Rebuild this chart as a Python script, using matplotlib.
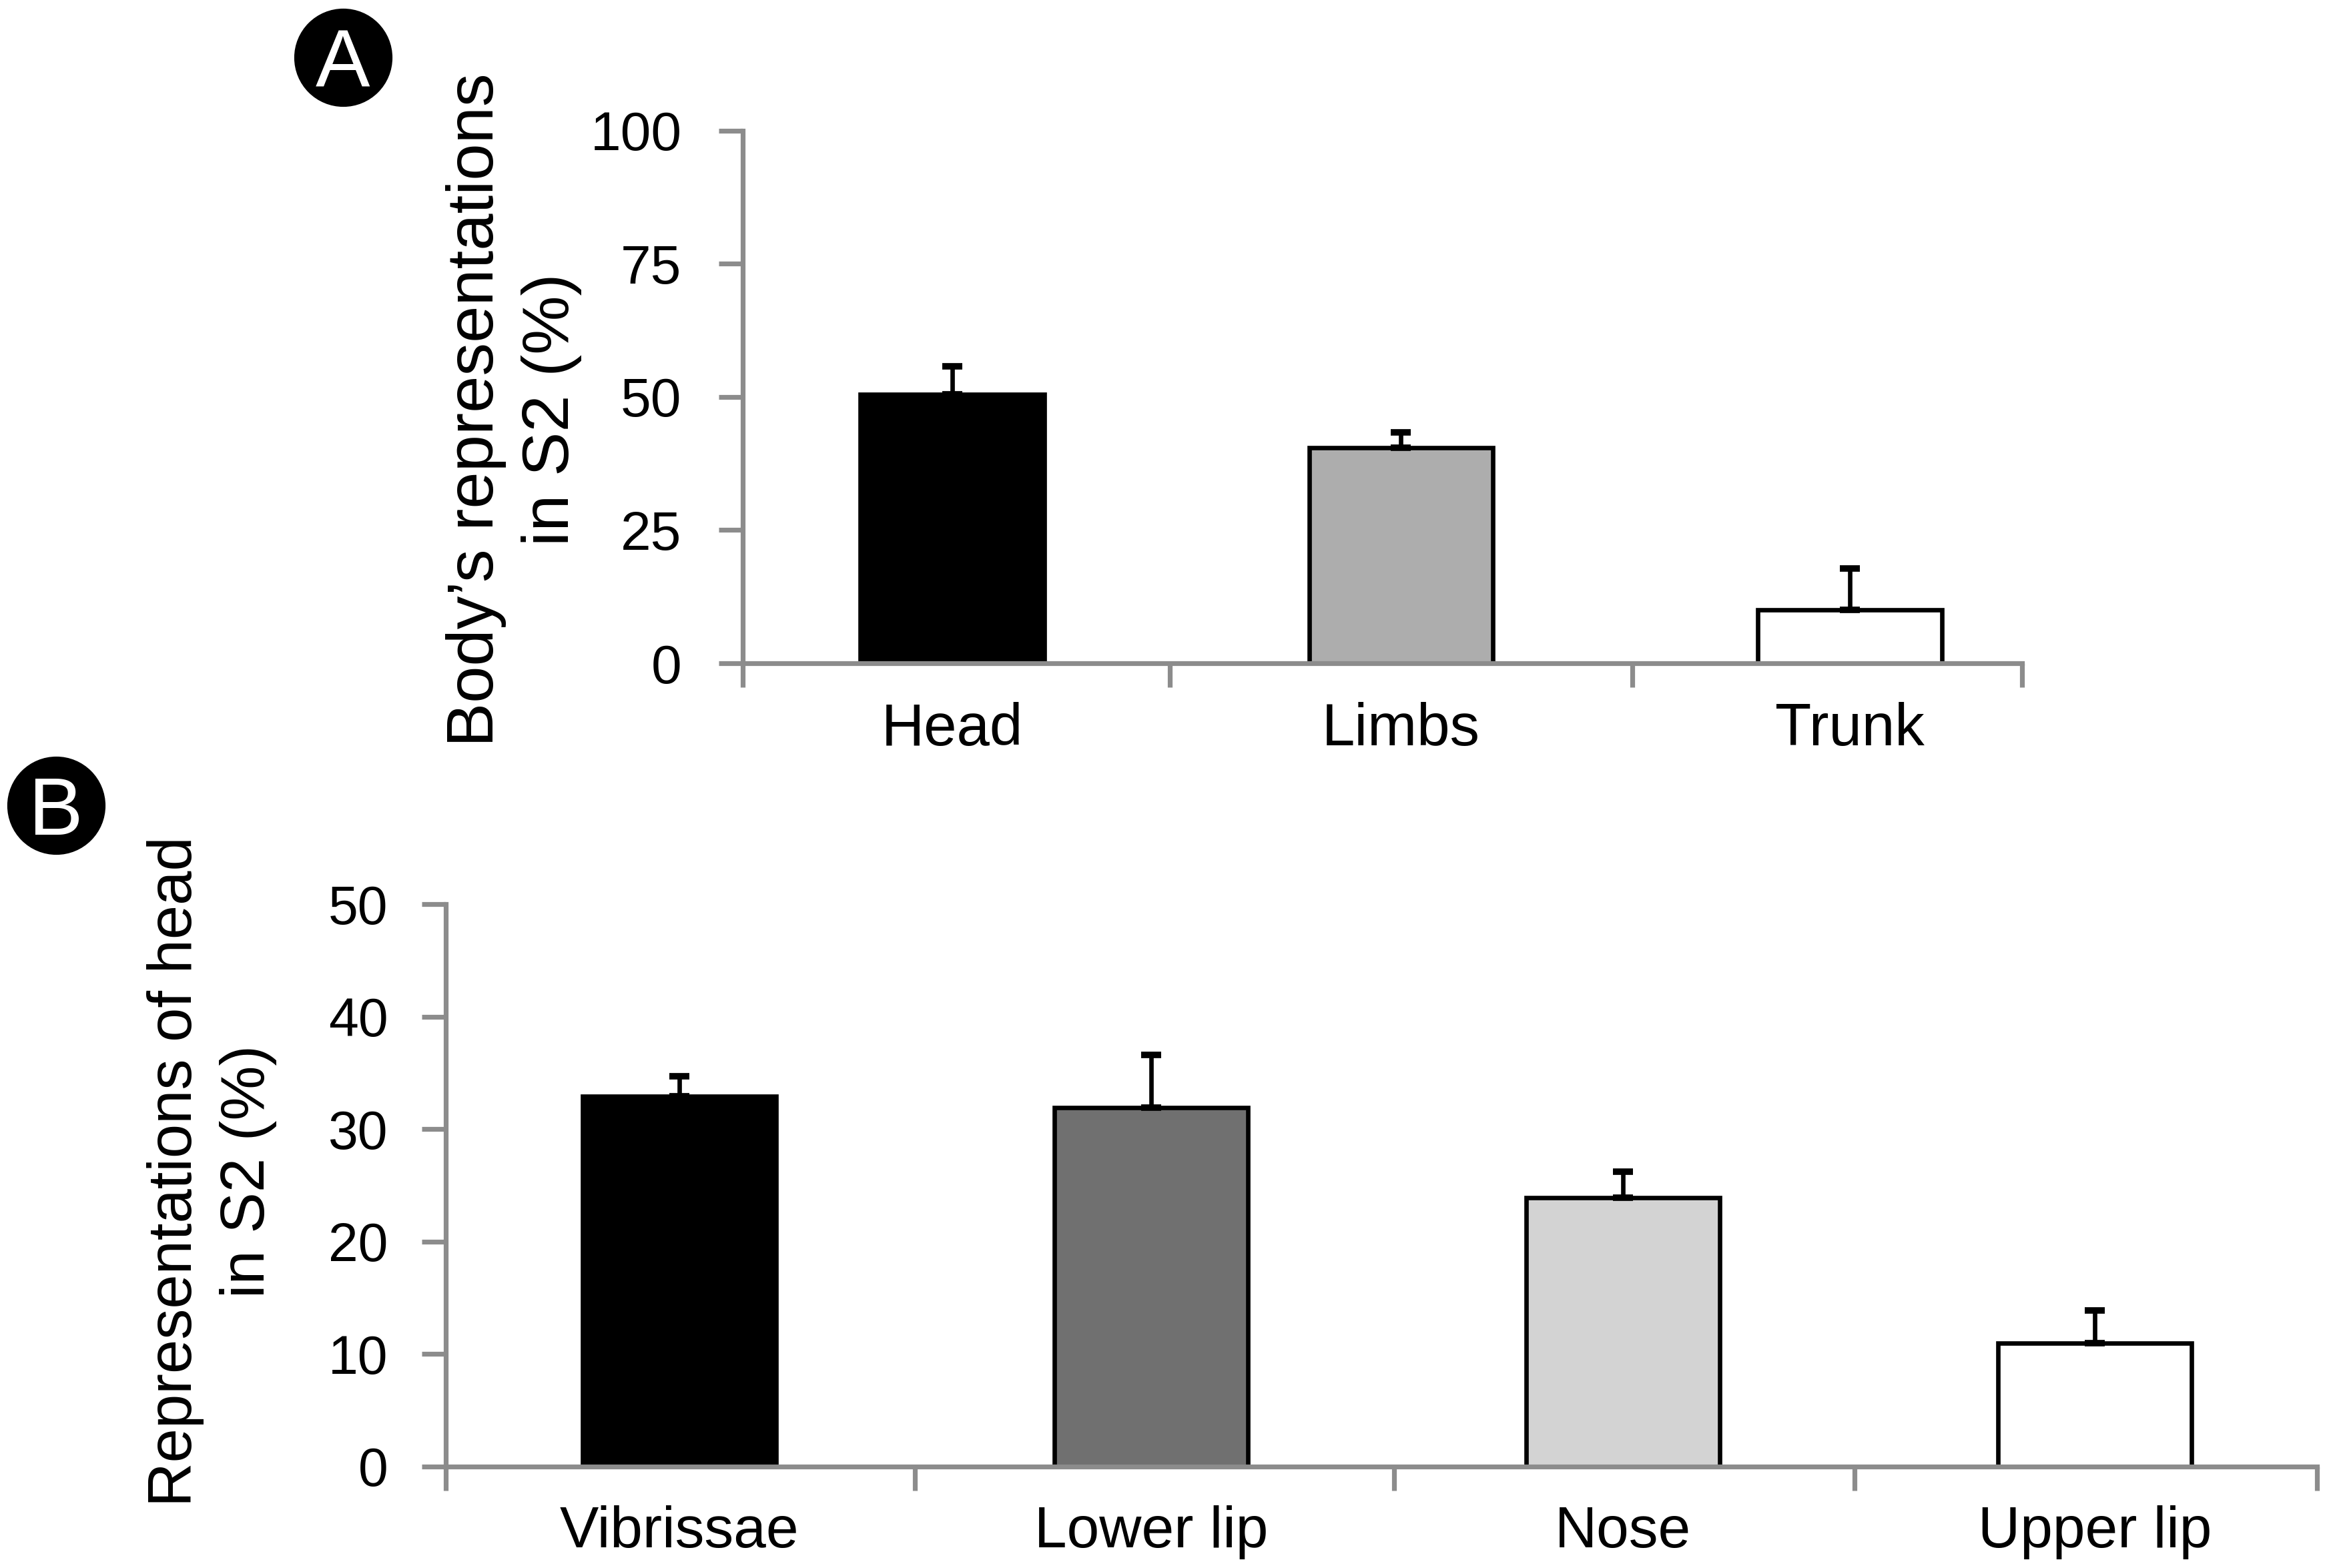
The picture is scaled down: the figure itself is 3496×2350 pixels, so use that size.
import matplotlib
matplotlib.use("Agg")
import matplotlib.pyplot as plt
from matplotlib.lines import Line2D

plt.rcParams['font.family'] = ['Liberation Sans', 'DejaVu Sans']

# panel A data
a_labels = ["Head", "Limbs", "Trunk"]
a_means = [50.5, 40.5, 10.0]
a_errs = [5.2, 2.8, 7.8]
a_colors = ["#000000", "#adadad", "#ffffff"]

# panel B data
b_labels = ["Vibrissae", "Lower lip", "Nose", "Upper lip"]
b_means = [32.9, 31.9, 23.9, 11.0]
b_errs = [1.8, 4.7, 2.3, 2.9]
b_colors = ["#000000", "#707070", "#d3d3d3", "#ffffff"]

AXIS_GREY = "#8c8c8c"


def draw_panel(ax, labels, means, errs, colors, ymax, ystep, xlim, bounds,
               ylabel, label_xy, linespacing, tick_fs, lab_fs, ylab_fs, ypad):
    x = list(range(len(labels)))
    ax.bar(x, means, width=0.41, color=colors, edgecolor="black",
           linewidth=2.4, zorder=2)
    ax.errorbar(x, means, yerr=[[0] * len(errs), errs], fmt="none",
                ecolor="black", elinewidth=2.4, capsize=5.5, capthick=3.5,
                zorder=3)
    ax.set_xlim(*xlim)
    ax.set_ylim(0, ymax)
    ax.set_yticks(list(range(0, ymax + 1, ystep)))
    for s in ["top", "right"]:
        ax.spines[s].set_visible(False)
    for s in ["left", "bottom"]:
        ax.spines[s].set_color(AXIS_GREY)
        ax.spines[s].set_linewidth(2.6)
        ax.spines[s].set_zorder(4)
    ax.tick_params(axis="y", direction="out", length=13, width=2.6,
                   color=AXIS_GREY, labelsize=tick_fs, pad=ypad)
    # boundary ticks without labels, category labels at bar centres
    ax.set_xticks(bounds)
    ax.set_xticklabels([])
    ax.tick_params(axis="x", which="major", direction="out", length=13,
                   width=2.6, color=AXIS_GREY)
    ax.set_xticks(x, minor=True)
    ax.set_xticklabels(labels, minor=True)
    ax.tick_params(axis="x", which="minor", length=0, labelsize=lab_fs, pad=21)
    ax.set_ylabel(ylabel, fontsize=ylab_fs, linespacing=linespacing,
                  multialignment="center")
    ax.yaxis.set_label_coords(*label_xy)


fig = plt.figure(figsize=(17.48, 11.75), dpi=200)

ax_a = fig.add_axes([0.3184, 0.577, 0.8667 - 0.3184, 0.9168 - 0.577])
draw_panel(ax_a, a_labels, a_means, a_errs, a_colors, 100, 25,
           (-0.466, 2.383), [-0.466, 0.485, 1.515, 2.383],
           "Body\u2019s representations\nin S2 (%)", (-0.126, 0.476), 1.3,
           29.5, 32, 35.8, 20)

ax_b = fig.add_axes([0.191, 0.0647, 0.993 - 0.191, 0.4234 - 0.0647])
draw_panel(ax_b, b_labels, b_means, b_errs, b_colors, 50, 10,
           (-0.496, 3.47), [-0.496, 0.499, 1.514, 2.49, 3.47],
           "Representations of head\nin S2 (%)", (-0.09, 0.525), 1.35,
           29, 31.5, 33.2, 18)

# panel letters in black discs
for letter, cx, cy in [("A", 0.147, 0.9634), ("B", 0.024, 0.4864)]:
    fig.add_artist(Line2D([cx], [cy], transform=fig.transFigure, marker="o",
                          markersize=52, color="black", linestyle="none"))
    fig.text(cx, cy, letter, color="white", fontsize=44, ha="center",
             va="center_baseline")

fig.savefig("out.png", dpi=200)
